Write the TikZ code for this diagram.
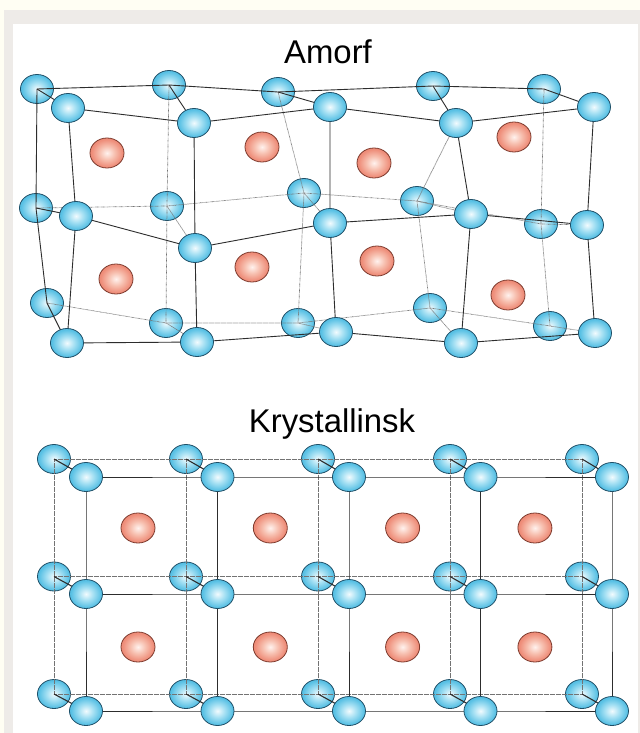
\documentclass[tikz,border=0pt]{standalone}
\usepackage{fontspec}
\setmainfont{Liberation Sans}
\usetikzlibrary{shapes.geometric}

% drawing order: page, back atoms, bonds, front atoms
\pgfdeclarelayer{paper}
\pgfdeclarelayer{backatoms}
\pgfdeclarelayer{bonds}
\pgfsetlayers{paper,backatoms,bonds,main}

\definecolor{bgyellow}{RGB}{255,254,243}
\definecolor{bggray}{RGB}{238,235,232}
\definecolor{bcore}{RGB}{242,251,254}
\definecolor{bmid}{RGB}{165,224,243}
\definecolor{bedge}{RGB}{88,192,228}
\definecolor{bline}{RGB}{30,78,102}
\definecolor{rcore}{RGB}{255,242,238}
\definecolor{rmid}{RGB}{247,192,176}
\definecolor{redge}{RGB}{238,140,120}
\definecolor{rline}{RGB}{125,58,45}
\definecolor{lcol}{RGB}{45,45,45}
\definecolor{dcol}{RGB}{115,115,115}

\pgfdeclareradialshading{blueball}{\pgfpointorigin}{%
  color(0bp)=(bcore); color(11bp)=(bmid); color(23bp)=(bedge);
  color(25bp)=(bedge); color(50bp)=(bedge)}
\pgfdeclareradialshading{redball}{\pgfpointorigin}{%
  color(0bp)=(rcore); color(11bp)=(rmid); color(23bp)=(redge);
  color(25bp)=(redge); color(50bp)=(redge)}

\tikzset{
  batom/.style={ellipse, draw=bline, line width=0.8bp, minimum width=33bp,
    minimum height=29bp, inner sep=0pt, shading=blueball},
  ratom/.style={ellipse, draw=rline, line width=0.8bp, minimum width=34bp,
    minimum height=30bp, inner sep=0pt, shading=redball},
  bond/.style={draw=lcol, line width=0.9bp},
  hidden/.style={draw=dcol, line width=0.7bp, dash pattern=on 0.6bp off 0.6bp},
  heading/.style={font=\fontsize{33}{40}\selectfont, anchor=base, inner sep=0pt}
}

\begin{document}
\begin{tikzpicture}[x=1bp,y=-1bp]
\useasboundingbox (0,0) rectangle (640,733);

\begin{pgfonlayer}{paper}
  \fill[bgyellow] (0,0) rectangle (640,733);
  \fill[bggray] (4,10) rectangle (640,733);
  \fill[white] (13,24) rectangle (638,733);
\end{pgfonlayer}

\node[heading] (amorf) at (328,64) {Amorf};
\node[heading] (kryst) at (332,432) {Krystallinsk};

% ---------- amorphous structure ----------
\begin{pgfonlayer}{backatoms}
  \foreach \n/\x/\y in {00/37/89, 10/169/85, 20/278/92, 30/433/86, 40/544/89,
                        01/36/208, 11/167/206, 21/304/193, 31/417/201, 41/541/224,
                        02/47/303, 12/166/323, 22/298/323, 32/430/308, 42/550/326}
    \node[batom] (ab\n) at (\x,\y) {};
\end{pgfonlayer}

\foreach \n/\x/\y in {00/68/108, 10/194/123, 20/330/107, 30/456/123, 40/594/107,
                      01/76/216, 11/195/248, 21/330/223, 31/471/214, 41/587/225,
                      02/67/343, 12/197/342, 22/336/332, 32/461/343, 42/595/333}
  \node[batom] (af\n) at (\x,\y) {};

\foreach \n/\x/\y in {1/107/153, 2/262/147, 3/374/163, 4/514/137,
                      5/116/279, 6/252/267, 7/377/261, 8/508/295}
  \node[ratom] (ar\n) at (\x,\y) {};

\begin{pgfonlayer}{bonds}
  % hidden back edges
  \draw[hidden] (ab01.center) -- (ab11.center) -- (ab21.center) -- (ab31.center) -- (ab41.center);
  \draw[hidden] (ab02.center) -- (ab12.center) -- (ab22.center) -- (ab32.center) -- (ab42.center);
  \draw[hidden] (ab10.center) -- (ab11.center) -- (ab12.center);
  \draw[hidden] (ab20.center) -- (ab21.center) -- (ab22.center);
  \draw[hidden] (af30.center) -- (ab31.center) -- (ab32.center);
  \draw[hidden] (ab40.center) -- (ab41.center) -- (ab42.center);
  \foreach \n in {11,21,31,41,12,22,32,42}
    \draw[hidden] (ab\n.center) -- (af\n.center);
  % visible back edges
  \draw[bond] (ab00.center) -- (ab10.center) -- (ab20.center) -- (ab30.center) -- (ab40.center);
  \draw[bond] (ab00.center) -- (ab01.center) -- (ab02.center);
  \foreach \n in {00,10,20,30,40,01,02}
    \draw[bond] (ab\n.center) -- (af\n.center);
  % front face
  \foreach \j in {0,1,2}
    \draw[bond] (af0\j.center) -- (af1\j.center) -- (af2\j.center) -- (af3\j.center) -- (af4\j.center);
  \foreach \i in {0,...,4}
    \draw[bond] (af\i0.center) -- (af\i1.center) -- (af\i2.center);
\end{pgfonlayer}

% ---------- crystalline structure ----------
\begin{pgfonlayer}{backatoms}
  \foreach \i in {0,...,4}
    \foreach \j in {0,1,2}
      \node[batom] (cb\i\j) at ({54+132*\i},{459+117.5*\j}) {};
\end{pgfonlayer}

\foreach \i in {0,...,4}
  \foreach \j in {0,1,2}
    \node[batom] (cf\i\j) at ({86+131.5*\i},{477+117*\j}) {};

\foreach \i in {0,...,3}
  \foreach \j in {0,1}
    \node[ratom] (cr\i\j) at ({138+132.3*\i},{528+119*\j}) {};

\begin{pgfonlayer}{bonds}
  \foreach \j in {0,1,2}
    \draw[hidden] (cb0\j.center) -- (cb1\j.center) -- (cb2\j.center) -- (cb3\j.center) -- (cb4\j.center);
  \foreach \i in {0,...,4}
    \draw[hidden] (cb\i0.center) -- (cb\i1.center) -- (cb\i2.center);
  \foreach \i in {0,...,4}
    \foreach \j in {0,1,2}
      \draw[bond, line width=1.1bp] (cb\i\j.center) -- (cf\i\j.center);
  \foreach \j in {0,1,2}
    \draw[bond] (cf0\j.center) -- (cf1\j.center) -- (cf2\j.center) -- (cf3\j.center) -- (cf4\j.center);
  \foreach \i in {0,...,4}
    \draw[bond] (cf\i0.center) -- (cf\i1.center) -- (cf\i2.center);
\end{pgfonlayer}

\end{tikzpicture}
\end{document}
